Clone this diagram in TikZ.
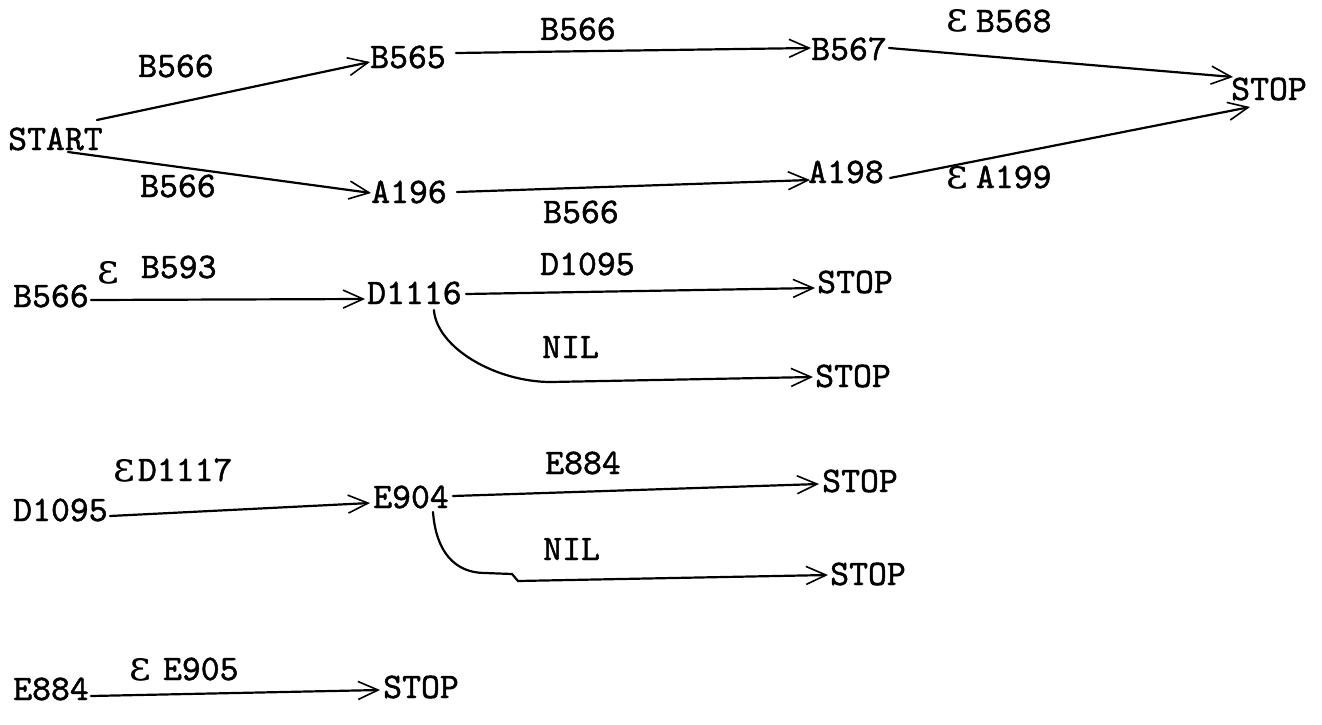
\documentclass[tikz,border=0pt]{standalone}
\usepackage{fontspec}
\usetikzlibrary{arrows.meta}
\newfontfamily\epsfont{DejaVu Serif}
\newfontfamily\tw[FakeBold=1.3]{lmmono10-regular.otf}
\newcommand\myeps{{\epsfont\fontsize{42}{42}\selectfont ε}}
\begin{document}
\begin{tikzpicture}[x=1pt,y=-1pt,
  txt/.style={font=\tw\fontsize{36}{36}\selectfont, inner sep=0pt, anchor=base west},
  conn/.style={line width=2.2pt, line cap=round, -{Straight Barb[length=20pt,width=18pt,line width=1.6pt]}}]
\useasboundingbox (0,0) rectangle (1322,725);
% row 1
\node[txt] (start) at (8,150) {START};
\node[txt] (b565) at (370,68) {B565};
\node[txt] (a196) at (371,203) {A196};
\node[txt] (b567) at (811,60) {B567};
\node[txt] (a198) at (808,183) {A198};
\node[txt] (stopa) at (1231,100) {STOP};
\node[txt] (l1) at (138,77) {B566};
\node[txt] (l2) at (140,197) {B566};
\node[txt] (l3) at (540,40) {B566};
\node[txt] (l4) at (543,223) {B566};
\node[txt] (l5) at (946,32) {\myeps\hspace{8pt}B568};
\node[txt] (l6) at (946,188) {\myeps\hspace{8pt}A199};
\draw[conn] ([shift={(-6,-30)}]start.base east) -- ([shift={(0,-6)}]b565.base west);
\draw[conn] ([shift={(60,2)}]start.base west) -- ([shift={(0,-10)}]a196.base west);
\draw[conn] ([shift={(10,-15)}]b565.base east) -- ([shift={(0,-12)}]b567.base west);
\draw[conn] ([shift={(10,-11)}]a196.base east) -- ([shift={(2,-3)}]a198.base west);
\draw[conn] ([shift={(2,-12)}]b567.base east) -- ([shift={(2,-23)}]stopa.base west);
\draw[conn] ([shift={(6,-5)}]a198.base east) -- ([shift={(19,7)}]stopa.base west);
% row 2
\node[txt] (b566) at (13,307) {B566};
\node[txt] (l7) at (97,278) {\raisebox{-5pt}{\myeps}\hspace{22pt}B593};
\node[txt] (d1116) at (367,304) {D1116};
\node[txt] (l8) at (540,275) {D1095};
\node[txt] (stopb) at (817,293) {STOP};
\node[txt] (l9) at (542,358) {NIL};
\node[txt] (stopc) at (815,387) {STOP};
\draw[conn] ([shift={(2,-7)}]b566.base east) -- ([shift={(-2,-5)}]d1116.base west);
\draw[conn] ([shift={(4,-10)}]d1116.base east) -- ([shift={(-2,-5)}]stopb.base west);
\draw[conn] ([shift={(-28,6)}]d1116.base east) .. controls +(3,38) and +(-55,0) .. ++(117,72) -- ([shift={(-2,-10)}]stopc.base west);
% row 3
\node[txt] (d1095) at (13,521) {D1095};
\node[txt] (l10) at (113,481) {\myeps\hspace{3pt}D1117};
\node[txt] (e904) at (373,508) {E904};
\node[txt] (l11) at (545,474) {E884};
\node[txt] (stopd) at (822,492) {STOP};
\node[txt] (l12) at (543,560) {NIL};
\node[txt] (stope) at (830,585) {STOP};
\draw[conn] ([shift={(2,-5)}]d1095.base east) -- ([shift={(-3,-5)}]e904.base west);
\draw[conn] ([shift={(4,-12)}]e904.base east) -- ([shift={(-3,-8)}]stopd.base west);
\draw[conn] ([shift={(-16,4)}]e904.base east) .. controls +(3,40) and +(-30,0) .. ++(52,61) -- ++(27,1) -- ++(6,7) -- ([shift={(-2,-10)}]stope.base west);
% row 4
\node[txt] (e884) at (13,700) {E884};
\node[txt] (l13) at (129,680) {\myeps\hspace{12pt}E905};
\node[txt] (stopf) at (383,698) {STOP};
\draw[conn] ([shift={(2,-4)}]e884.base east) -- ([shift={(-3,-8)}]stopf.base west);
\end{tikzpicture}
\end{document}
